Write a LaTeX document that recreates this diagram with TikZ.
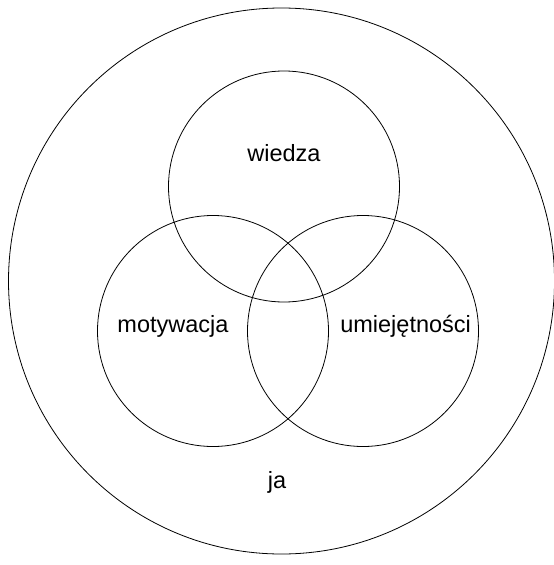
\documentclass[tikz,border=0pt]{standalone}
\usepackage{fontspec}
\setmainfont{Liberation Sans}
\begin{document}
\begin{tikzpicture}[x=1pt,y=-1pt,
  ring/.style={circle,draw,line width=0.8pt,inner sep=0pt},
  lbl/.style={font=\fontsize{23.5}{28}\selectfont,inner sep=0pt}]
\useasboundingbox (0,0) rectangle (554,565);
\node[ring,minimum size=546pt] (ja) at (281.5,281) {};
\node[ring,minimum size=231pt] (w) at (284,186.5) {};
\node[ring,minimum size=231pt] (m) at (213,331) {};
\node[ring,minimum size=231pt] (u) at (363,331) {};
\node[lbl] (tw) at (284,153) {wiedza};
\node[lbl] (tm) at (173,326) {motywacja};
\node[lbl] (tu) at (405.6,326) {umiejętności};
\node[lbl] (tj) at (277,482) {ja};
\end{tikzpicture}
\end{document}
